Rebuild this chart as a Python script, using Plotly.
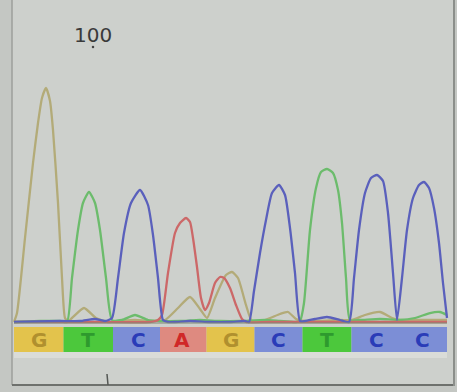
import plotly.graph_objects as go

# ---- data (x = scan position, y = signal intensity) ----
g_x = [14, 17, 25, 33, 38, 42, 46, 50, 53, 58, 62, 65, 68, 72, 84, 96, 108, 120, 135, 150, 165, 178, 190,
       200, 207, 215, 226, 232, 238, 246, 252, 265, 280, 288, 296, 305, 320, 340, 352, 365, 380, 392, 400,
       415, 430, 447]
g_y = [1, 10, 85, 160, 200, 225, 235, 222, 193, 120, 45, 5, 2, 5, 15, 5, 1, 2, 3, 2, 3, 15, 26,
       14, 5, 25, 48, 51, 45, 18, 2, 3, 9, 11, 4, 2, 2, 3, 3, 8, 11, 5, 3,
       3, 3, 3]

t_x = [14, 40, 60, 67, 72, 78, 83, 89, 95, 100, 106, 112, 122, 135, 148, 160, 180, 200, 220, 240,
       265, 280, 296, 300, 304, 310, 316, 321, 327, 333, 338, 342, 346, 350, 360, 380, 400, 415, 430, 440, 447]
t_y = [1, 2, 2, 1, 45, 93, 120, 131, 120, 93, 45, 3, 3, 8, 3, 2, 2, 3, 2, 2,
       3, 2, 1, 2, 20, 93, 135, 151, 154, 150, 133, 100, 45, 3, 3, 4, 3, 5, 10, 11, 8]

c_x = [14, 60, 80, 95, 105, 112, 118, 124, 131, 140, 148, 153, 158, 163, 168, 175, 190, 210,
       230, 245, 249, 254, 260, 266, 272, 279, 285, 290, 295, 300, 305, 315, 327, 340, 349, 354,
       359, 365, 371, 377, 383, 388, 393, 397, 402, 407, 413, 419, 424, 429, 434, 439, 443, 447]
c_y = [1, 2, 2, 4, 2, 5, 45, 90, 120, 133, 118, 88, 45, 3, 1, 1, 2, 1,
       1, 2, 1, 32, 70, 103, 130, 138, 128, 95, 50, 2, 2, 4, 6, 3, 1, 45,
       93, 130, 145, 148, 142, 110, 50, 3, 45, 93, 125, 138, 141, 135, 115, 80, 40, 5]

a_x = [14, 100, 150, 158, 162, 168, 175, 180, 186, 190, 193, 197, 201, 205, 209, 215, 220, 224, 230, 236,
       242, 246, 270, 447]
a_y = [1, 1, 1, 3, 8, 50, 90, 100, 105, 101, 85, 56, 25, 13, 20, 40, 46, 45, 35, 18,
       4, 1, 1, 1]

base_calls = ["G", "T", "C", "A", "G", "C", "T", "C", "C"]
base_pos = [39, 88, 138, 182, 231, 278, 327, 376, 422]
strip_start, strip_end = 14, 447
position_label = "100"
position_label_x = 93

trace_colors = {"G": "#b3ab78", "T": "#6cbc6c", "C": "#5a60bc", "A": "#cc6868"}
cell_colors = {"G": "#e3c34c", "T": "#4cc83c", "C": "#7c8ed6", "A": "#de8a80"}
letter_colors = {"G": "#b0902e", "T": "#2e9a2e", "C": "#2a3cb8", "A": "#d02828"}

W, H = 457, 392
fig = go.Figure()

for name, xs, ys in [("G", g_x, g_y), ("T", t_x, t_y), ("A", a_x, a_y), ("C", c_x, c_y)]:
    fig.add_trace(go.Scatter(x=xs, y=ys, mode="lines", name=name,
                             line=dict(color=trace_colors[name], width=2.3, shape="spline", smoothing=0.55),
                             hoverinfo="skip", showlegend=False))

# position tick dot
fig.add_trace(go.Scatter(x=[position_label_x], y=[276], mode="markers",
                         marker=dict(size=2.5, color="#444"), showlegend=False, hoverinfo="skip"))

shapes = []
# inner panel
shapes.append(dict(type="rect", xref="paper", yref="paper", x0=12 / W, x1=454 / W, y0=(H - 385) / H, y1=1,
                   fillcolor="#cdd0cc", line=dict(width=0), layer="below"))
shapes.append(dict(type="line", xref="paper", yref="paper", x0=12 / W, x1=12 / W, y0=(H - 385) / H, y1=1,
                   line=dict(color="#9c9f9b", width=1.5)))
shapes.append(dict(type="line", xref="paper", yref="paper", x0=12 / W, x1=454 / W, y0=(H - 385) / H,
                   y1=(H - 385) / H, line=dict(color="#6e716d", width=2)))
shapes.append(dict(type="line", xref="paper", yref="paper", x0=454 / W, x1=454 / W, y0=(H - 386) / H, y1=1,
                   line=dict(color="#8c8f8b", width=2)))
# light band below strip
shapes.append(dict(type="rect", xref="x", yref="y", x0=strip_start, x1=strip_end, y0=-29, y1=-35,
                   fillcolor="#dadcd8", line=dict(width=0), layer="below"))
# base call cells
edges = [strip_start] + [(base_pos[i] + base_pos[i + 1]) / 2 for i in range(len(base_pos) - 1)] + [strip_end]
for i, b in enumerate(base_calls):
    shapes.append(dict(type="rect", xref="x", yref="y", x0=edges[i], x1=edges[i + 1], y0=-29, y1=-4,
                       fillcolor=cell_colors[b], line=dict(width=0), layer="below"))
# baseline
shapes.append(dict(type="line", xref="x", yref="y", x0=strip_start, x1=strip_end, y0=0, y1=0,
                   line=dict(color="#7f8a74", width=1.2)))
# small tick below strip
shapes.append(dict(type="line", xref="paper", yref="paper", x0=107 / W, x1=108 / W, y0=(H - 374) / H,
                   y1=(H - 385) / H, line=dict(color="#555855", width=1.5)))

annotations = []
for b, p in zip(base_calls, base_pos):
    annotations.append(dict(x=p, y=-16.5, xref="x", yref="y", text="<b>%s</b>" % b, showarrow=False,
                            font=dict(family="DejaVu Sans", size=20, color=letter_colors[b])))
annotations.append(dict(x=position_label_x, y=288, xref="x", yref="y", text=position_label, showarrow=False,
                        font=dict(family="DejaVu Sans", size=20, color="#3a3a3a")))

fig.update_layout(width=W, height=H, margin=dict(l=0, r=0, t=0, b=0),
                  paper_bgcolor="#c4c7c3", plot_bgcolor="rgba(0,0,0,0)",
                  xaxis=dict(range=[0, W], visible=False, fixedrange=True),
                  yaxis=dict(range=[-69, 323], visible=False, fixedrange=True),
                  shapes=shapes, annotations=annotations)

fig.write_html("out.html", config={"displayModeBar": False},
               post_script="document.body.style.margin='0px';document.body.style.background='#c4c7c3';")
